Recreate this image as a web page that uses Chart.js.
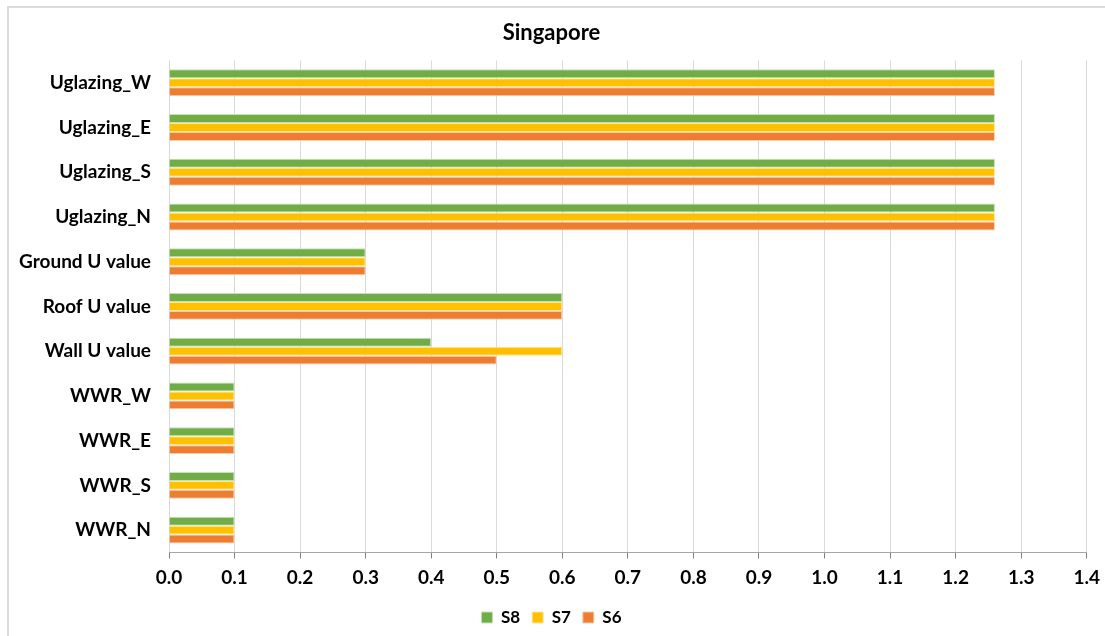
<!DOCTYPE html>
<html>
<head>
<meta charset="utf-8">
<script src="https://cdn.jsdelivr.net/npm/chart.js@4"></script>
<style>
  html, body { margin: 0; padding: 0; background: #fff; overflow: hidden; }
  #frame {
    position: absolute; left: 7px; top: 6px;
    width: 1110px; height: 640px;
    border-left: 2px solid #d9d9d9; border-top: 2px solid #d9d9d9;
  }
  #chart { position: absolute; left: 0; top: 0; }
</style>
</head>
<body>
<div id="frame"></div>
<canvas id="chart" width="1105" height="636"></canvas>
<script>
'use strict';
// categories from top to bottom
const categories = ['Uglazing_W', 'Uglazing_E', 'Uglazing_S', 'Uglazing_N', 'Ground U value',
  'Roof U value', 'Wall U value', 'WWR_W', 'WWR_E', 'WWR_S', 'WWR_N'];
const s8 = [1.26, 1.26, 1.26, 1.26, 0.3, 0.6, 0.4, 0.1, 0.1, 0.1, 0.1];
const s7 = [1.26, 1.26, 1.26, 1.26, 0.3, 0.6, 0.6, 0.1, 0.1, 0.1, 0.1];
const s6 = [1.26, 1.26, 1.26, 1.26, 0.3, 0.6, 0.5, 0.1, 0.1, 0.1, 0.1];

const font = 'Lato, "Open Sans", sans-serif';

const ctx = document.getElementById('chart').getContext('2d');
new Chart(ctx, {
  type: 'bar',
  data: {
    labels: categories,
    datasets: [
      { label: 'S8', data: s8, backgroundColor: '#70ad47', borderColor: '#c6e0b4', borderWidth: 1 },
      { label: 'S7', data: s7, backgroundColor: '#ffc000', borderColor: '#ffe699', borderWidth: 1 },
      { label: 'S6', data: s6, backgroundColor: '#ed7d31', borderColor: '#f8cbad', borderWidth: 1 }
    ]
  },
  options: {
    indexAxis: 'y',
    responsive: false,
    animation: false,
    layout: { padding: { left: 14, right: 16, top: 12, bottom: 0 } },
    datasets: { bar: { categoryPercentage: 0.6, barPercentage: 1.0 } },
    plugins: {
      title: {
        display: true, text: 'Singapore', color: '#000',
        font: { family: font, size: 22, weight: 'bold' },
        padding: { top: 8, bottom: 14 }
      },
      legend: {
        position: 'bottom',
        labels: {
          color: '#000', boxWidth: 11, boxHeight: 11, padding: 12,
          font: { family: font, size: 17, weight: 'bold' }
        }
      },
      tooltip: { enabled: false }
    },
    scales: {
      x: {
        min: 0, max: 1.4,
        ticks: {
          stepSize: 0.1, color: '#000', padding: 5,
          font: { family: font, size: 19, weight: 'bold', lineHeight: 1.5 },
          callback: v => Number(v).toFixed(1)
        },
        grid: { color: '#d9d9d9', tickColor: '#808080', tickLength: 6, drawTicks: true },
        border: { color: '#a6a6a6', width: 1 }
      },
      y: {
        ticks: {
          color: '#000', padding: 10,
          font: { family: font, size: 19, weight: 'bold' }
        },
        grid: { display: false },
        border: { display: false },
        afterFit: s => { s.width = 155; }
      }
    }
  }
});
</script>
</body>
</html>
